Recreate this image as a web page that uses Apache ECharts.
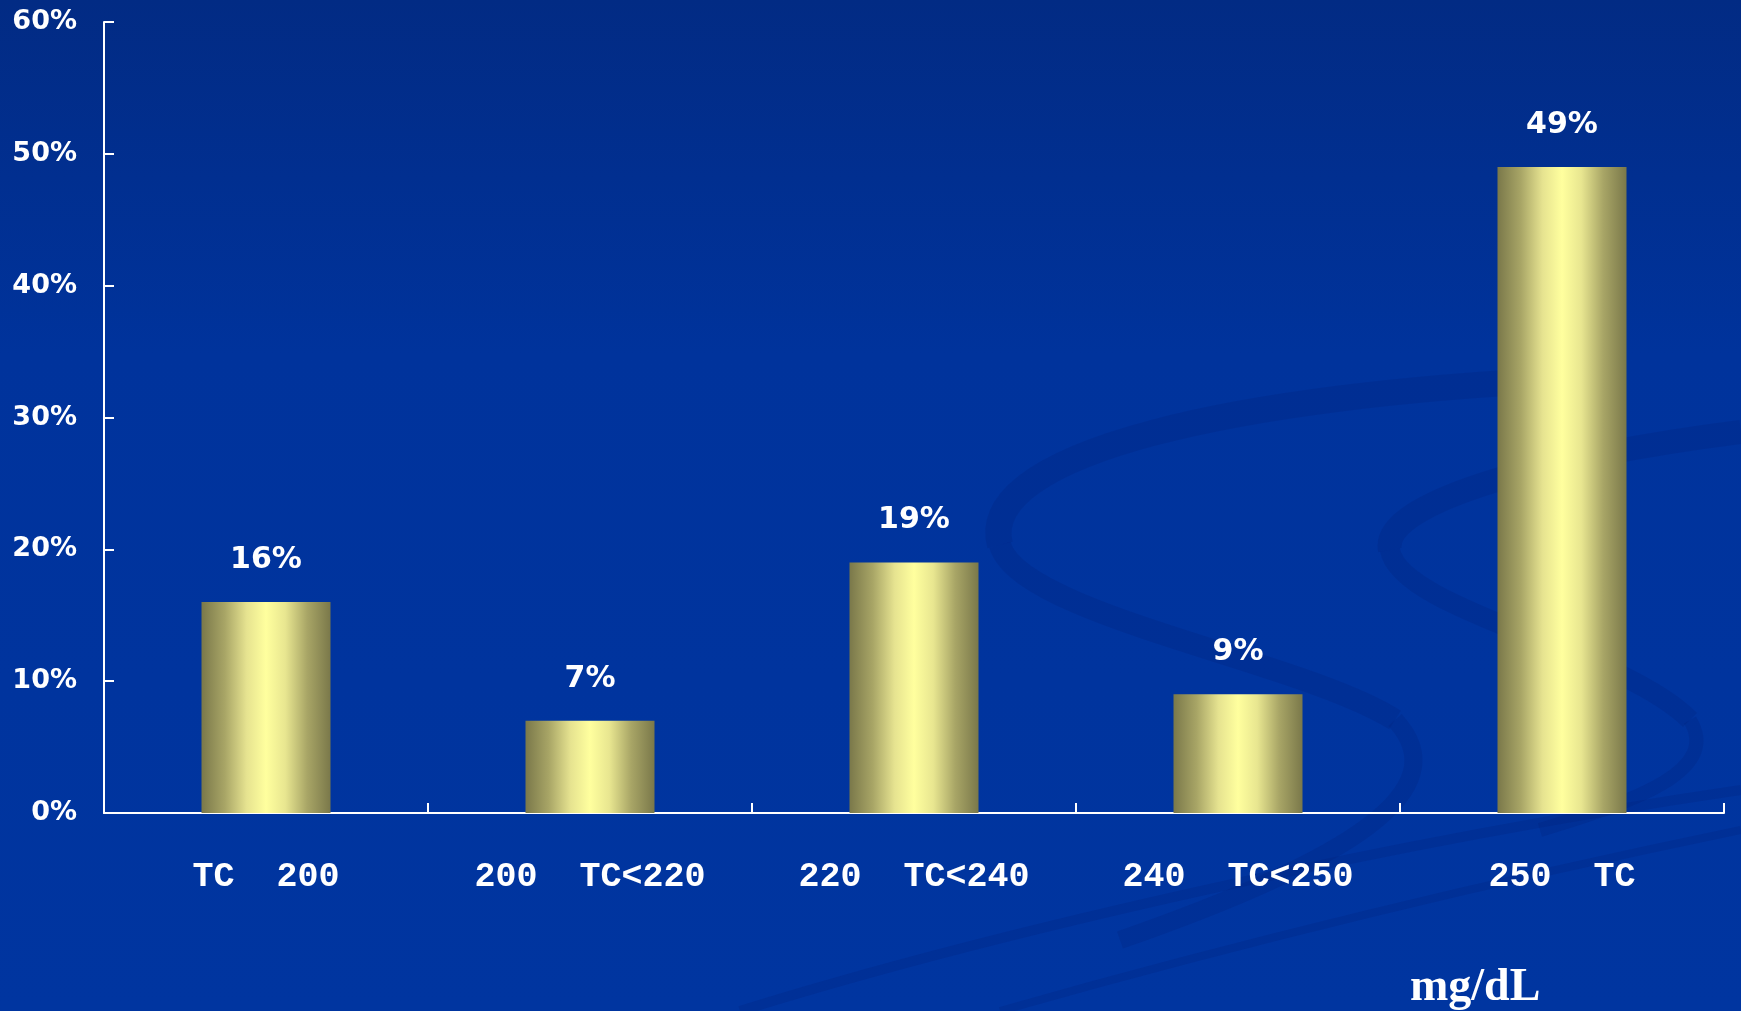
<!DOCTYPE html>
<html>
<head>
<meta charset="utf-8">
<title>TC distribution</title>
<script src="https://cdn.jsdelivr.net/npm/echarts@6/dist/echarts.min.js"></script>
<style>
  html, body { margin: 0; padding: 0; }
  #chart { width: 1741px; height: 1011px; }
</style>
</head>
<body>
<div id="chart"></div>
<script>
// chart data
const categories = ['TC  200', '200  TC<220', '220  TC<240', '240  TC<250', '250  TC'];
const percents = [16, 7, 19, 9, 49];
const yTicks = { min: 0, max: 60, interval: 10 };
const unitLabel = 'mg/dL';

// background swirls (decoration only)
const swirlColor = 'rgba(0, 30, 120, 0.22)';
const swirl = (x1, y1, cpx1, cpy1, cpx2, cpy2, x2, y2, w) => ({
  type: 'bezierCurve',
  silent: true,
  z: -10,
  shape: { x1, y1, cpx1, cpy1, cpx2, cpy2, x2, y2 },
  style: { stroke: swirlColor, lineWidth: w, fill: null },
});

const chart = echarts.init(document.getElementById('chart'));

const barGradient = new echarts.graphic.LinearGradient(0, 0, 1, 0, [
  { offset: 0, color: '#7a784a' },
  { offset: 0.18, color: '#a8a566' },
  { offset: 0.35, color: '#e6e390' },
  { offset: 0.5, color: '#ffff9e' },
  { offset: 0.65, color: '#e8e690' },
  { offset: 0.82, color: '#a8a566' },
  { offset: 1, color: '#7a784a' },
]);

const option = {
  backgroundColor: new echarts.graphic.LinearGradient(0, 0, 0, 1, [
    { offset: 0, color: '#022b84' },
    { offset: 0.35, color: '#00339c' },
    { offset: 1, color: '#0035a0' },
  ]),
  animation: false,
  title: {
    text: unitLabel,
    left: 1405,
    top: 960,
    textStyle: {
      color: '#ffffff',
      fontFamily: 'Liberation Serif',
      fontWeight: 'bold',
      fontSize: 46,
    },
  },
  graphic: [
    swirl(1560, 380, 1250, 395, 975, 450, 1000, 545, 26),
    swirl(1000, 545, 1020, 615, 1300, 660, 1395, 720, 22),
    swirl(1395, 720, 1460, 790, 1350, 860, 1120, 940, 18),
    swirl(1741, 432, 1560, 455, 1380, 500, 1390, 550, 24),
    swirl(1390, 550, 1400, 610, 1620, 650, 1690, 720, 20),
    swirl(1690, 720, 1720, 770, 1640, 800, 1540, 830, 14),
    swirl(740, 1011, 1000, 930, 1400, 840, 1741, 790, 10),
    swirl(1000, 1011, 1250, 940, 1500, 880, 1741, 830, 8),
  ],
  grid: {
    left: 104,
    right: 17,
    top: 22,
    bottom: 198,
  },
  xAxis: {
    type: 'category',
    data: categories,
    axisLine: { lineStyle: { color: '#ffffff', width: 2 } },
    axisTick: {
      show: true,
      alignWithLabel: false,
      inside: true,
      length: 10,
      lineStyle: { color: '#ffffff', width: 2 },
    },
    axisLabel: {
      color: '#ffffff',
      fontFamily: 'Liberation Mono',
      fontWeight: 'bold',
      fontSize: 35,
      margin: 47,
    },
  },
  yAxis: {
    type: 'value',
    min: yTicks.min,
    max: yTicks.max,
    interval: yTicks.interval,
    splitLine: { show: false },
    axisLine: { show: true, lineStyle: { color: '#ffffff', width: 2 } },
    axisTick: { show: true, inside: true, length: 10, lineStyle: { color: '#ffffff', width: 2 } },
    axisLabel: {
      color: '#ffffff',
      fontFamily: 'DejaVu Sans',
      fontWeight: 'bold',
      fontSize: 27,
      margin: 27,
      formatter: '{value}%',
    },
  },
  series: [
    {
      type: 'bar',
      data: percents,
      barWidth: 129,
      itemStyle: { color: barGradient },
      label: {
        show: true,
        position: 'top',
        distance: 27,
        color: '#ffffff',
        fontFamily: 'DejaVu Sans',
        fontWeight: 'bold',
        fontSize: 30,
        formatter: '{c}%',
      },
    },
  ],
};

chart.setOption(option);
</script>
</body>
</html>
